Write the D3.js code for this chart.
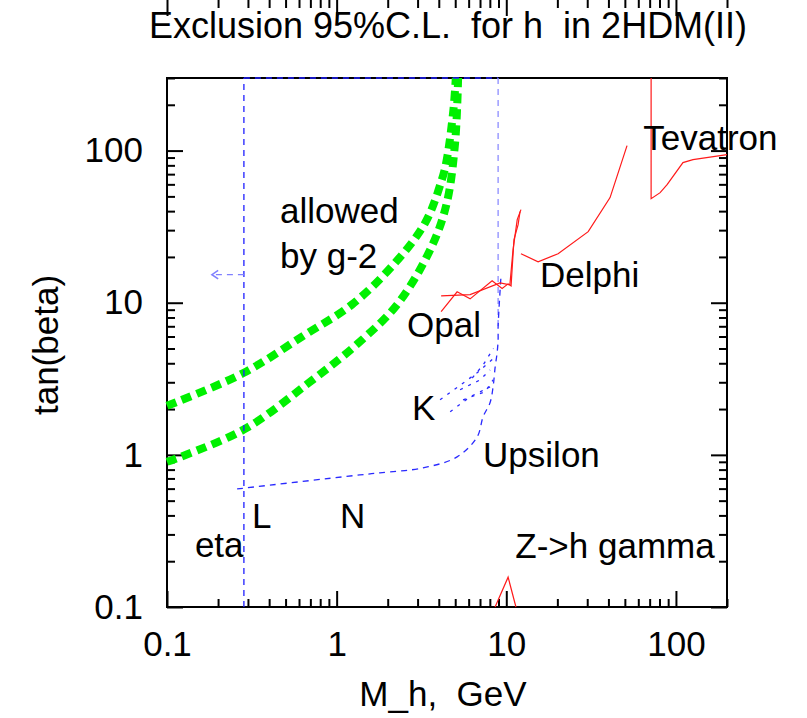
<!DOCTYPE html>
<html>
<head>
<meta charset="utf-8">
<script src="https://cdn.jsdelivr.net/npm/d3@7"></script>
<style>
  body { margin: 0; background: #fff; }
  svg text { font-family: "Liberation Sans", Arial, sans-serif; fill: #000; white-space: pre; }
</style>
</head>
<body>
<svg id="chart"></svg>
<script>
var width = 807;
var height = 718;
var margin = {left: 167, right: 80, top: 78, bottom: 111};

// axis ticks
var xLabels = [0.1, 1, 10, 100];
var yLabels = [0.1, 1, 10, 100];

// g-2 allowed band (green)
var g2Upper = [[0.1, 2.1], [0.282, 3.45], [0.651, 6.16], [1.227, 9.7], [2.113, 17.3], [3.32, 33.4],
  [4.17, 64.4], [4.46, 87.3], [4.88, 186], [5.04, 300]];
var g2Lower = [[0.1, 0.9], [0.282, 1.46], [0.681, 2.96], [1.343, 5.43], [2.31, 9.95], [3.64, 23.5],
  [4.46, 45.3], [4.99, 112], [5.2, 300]];

// blue bounds (eta, L, N, K, Upsilon)
var etaLine = [[0.284, 0.1], [0.284, 300]];
var topLine = [[0.284, 300], [8.95, 300]];
var etaArrow = [[0.284, 15.3], [0.184, 15.3]];
var upsilonLine = [[0.259, 0.597], [1.37, 0.738], [1.8, 0.762], [3.23, 0.821], [5.13, 0.97],
  [6.73, 1.31], [7.3, 1.78], [8.02, 2.2], [8.36, 2.8], [8.6, 3.79], [8.83, 4.69], [8.95, 5.71],
  [8.95, 6.95], [9.3, 14.8]];
var upsilonEdge = [[8.95, 300], [8.95, 7]];
var kaonLines = [
  [[4.07, 2.30], [6.73, 3.46], [8.6, 4.41]],
  [[4.67, 1.92], [6.12, 2.41], [8.02, 2.8]],
  [[5.34, 2.68], [7.01, 3.11], [8.02, 3.62]],
  [[5.56, 2.30], [7.5, 2.6], [8.36, 3.11]],
  [[6.3, 3.2], [7.3, 3.9], [8.4, 5.0]]
];

// red bounds (Opal, Delphi, Tevatron, Z->h gamma)
var opalA = [[4.13, 11.1], [6.12, 11.3], [9.19, 13.5], [10.5, 13.1], [10.96, 22.3], [11.6, 35.2], [12.2, 40.9]];
var opalB = [[4.13, 8.73], [5.13, 11.8], [6.12, 10.6], [8.25, 13.96], [9.45, 12.4], [10.25, 13.3],
  [10.67, 12.9], [11.1, 26], [11.74, 32.6], [12.05, 39.7]];
var delphi = [[12.2, 21.0], [15.4, 18.6], [20.2, 21.0], [30.4, 29.3], [40.9, 49.1], [51.5, 107.9]];
var tevatron = [[71.4, 300], [71.4, 48.3], [80.7, 52.9], [88.7, 59.7], [110, 83.4], [126, 87.3], [200, 94.1]];
var zGamma = [[8.59, 0.1], [10.25, 0.157], [11.4, 0.1]];

// text labels in the plot: [text, x, y] at the text baseline start
var labels = [
  ["allowed", 0.464, 33.6], ["by g-2", 0.464, 17.0], ["Opal", 2.6, 5.97], ["K", 2.78, 1.70],
  ["Upsilon", 7.3, 0.834], ["Delphi", 15.8, 12.7], ["Tevatron", 64.2, 101.6],
  ["L", 0.317, 0.331], ["N", 1.047, 0.331], ["eta", 0.146, 0.213], ["Z->h gamma", 11.3, 0.21]
];

var x = d3.scaleLog().domain([0.1, 200]).range([margin.left, width - margin.right]);
var y = d3.scaleLog().domain([0.1, 300]).range([height - margin.bottom, margin.top]);

var svg = d3.select("#chart").attr("width", width).attr("height", height);

var line = d3.line().x(d => x(d[0])).y(d => y(d[1]));
var smooth = d3.line().x(d => x(d[0])).y(d => y(d[1])).curve(d3.curveCatmullRom);

// frame
svg.append("rect")
  .attr("x", x(0.1)).attr("y", y(300))
  .attr("width", x(200) - x(0.1)).attr("height", y(0.1) - y(300))
  .attr("fill", "none").attr("stroke", "#000").attr("stroke-width", 2);

// ticks, all four sides, pointing in
function ticks(axis, scale, vals, size, tr, labelled) {
  var g = svg.append("g").attr("transform", tr)
    .call(axis(scale).tickValues(vals).tickSize(-size).tickPadding(labelled ? 24 : 0)
      .tickFormat(labelled ? d3.format("~g") : ""));
  g.select(".domain").remove();
  g.selectAll(".tick line").attr("stroke", "#000").attr("stroke-width", 2);
  g.selectAll(".tick text").attr("font-size", 35).attr("fill", "#000");
  return g;
}
var xMinor = x.ticks().filter(v => xLabels.indexOf(v) < 0);
var yMinor = y.ticks().filter(v => yLabels.indexOf(v) < 0);
var bottom = "translate(0," + y(0.1) + ")", top = "translate(0," + y(300) + ")";
var left = "translate(" + x(0.1) + ",0)", right = "translate(" + x(200) + ",0)";
ticks(d3.axisBottom, x, xLabels, 16, bottom, true);
ticks(d3.axisBottom, x, xMinor, 8, bottom, false);
ticks(d3.axisTop, x, xLabels, 16, top, false);
ticks(d3.axisTop, x, xMinor, 8, top, false);
ticks(d3.axisLeft, y, yLabels, 16, left, true);
ticks(d3.axisLeft, y, yMinor, 8, left, false);
ticks(d3.axisRight, y, yLabels, 16, right, false);
ticks(d3.axisRight, y, yMinor, 8, right, false);

// green g-2 band
[g2Upper, g2Lower].forEach(function (d) {
  svg.append("path").datum(d).attr("d", smooth)
    .attr("fill", "none").attr("stroke", "#00f000")
    .attr("stroke-width", 8).attr("stroke-dasharray", "10,6");
});

// blue lines
function blue(d, color, gen) {
  return svg.append("path").datum(d).attr("d", gen || line)
    .attr("fill", "none").attr("stroke", color)
    .attr("stroke-width", 1.3).attr("stroke-dasharray", "6,5");
}
svg.append("defs").append("marker")
  .attr("id", "head").attr("viewBox", "0 0 10 10").attr("refX", 8).attr("refY", 5)
  .attr("markerWidth", 8).attr("markerHeight", 8).attr("orient", "auto")
  .append("path").attr("d", "M2,1 L8,5 L2,9").attr("fill", "none")
  .attr("stroke", "#8080ff").attr("stroke-width", 1.5);

blue(etaLine, "#1f1fff");
blue(topLine, "#1f1fff");
blue(upsilonEdge, "#8c8cff");
blue(etaArrow, "#8080ff").attr("marker-end", "url(#head)");
blue(upsilonLine, "#2a2aff", smooth);
kaonLines.forEach(d => blue(d, "#2a2aff").attr("stroke-dasharray", "3,6"));

// red lines
[opalA, opalB, delphi, tevatron, zGamma].forEach(function (d) {
  svg.append("path").datum(d).attr("d", line)
    .attr("fill", "none").attr("stroke", "#ff1a1a").attr("stroke-width", 1.2);
});

// labels
svg.selectAll(".lbl").data(labels).enter().append("text")
  .attr("class", "lbl")
  .attr("x", d => x(d[1])).attr("y", d => y(d[2]))
  .attr("font-size", 35).text(d => d[0]);

svg.append("text").attr("x", 448).attr("y", 38).attr("text-anchor", "middle")
  .attr("font-size", 36).text("Exclusion 95%C.L.  for h  in 2HDM(II)");
svg.append("text").attr("x", 443).attr("y", 706).attr("text-anchor", "middle")
  .attr("font-size", 35).text("M_h,  GeV");
svg.append("text").attr("transform", "translate(58,345) rotate(-90)").attr("text-anchor", "middle")
  .attr("font-size", 35).text("tan(beta)");
</script>
</body>
</html>
